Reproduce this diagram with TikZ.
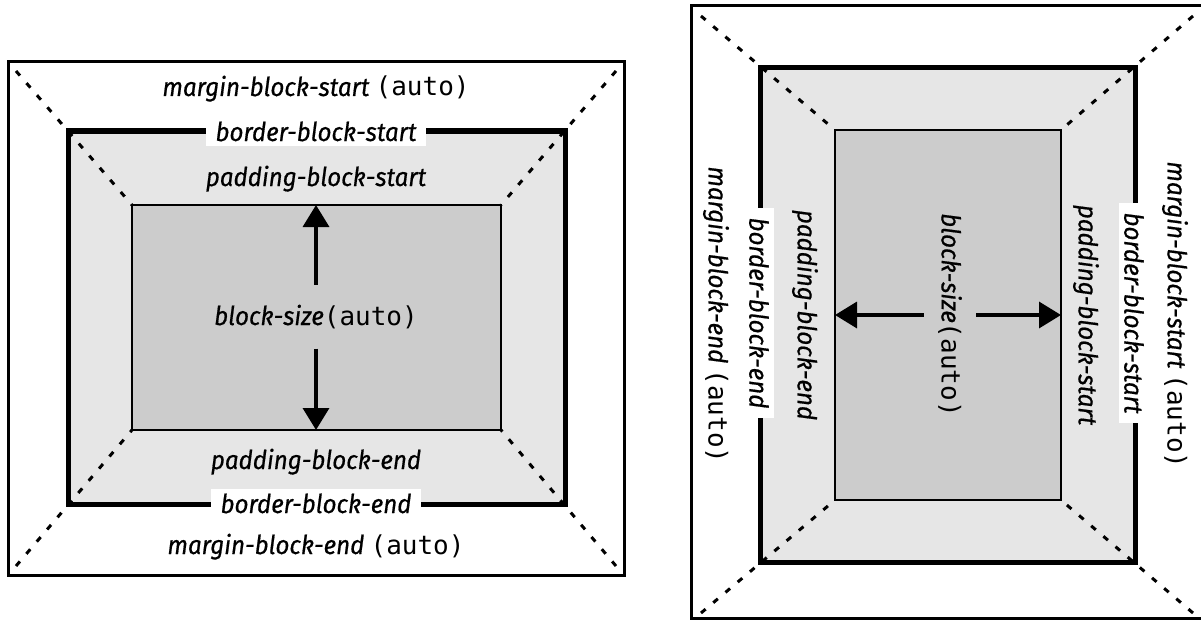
\documentclass[tikz,border=0pt]{standalone}
\usepackage{fontspec}
\newfontfamily\labelfont{Fira Sans}[FakeBold=0.6, FakeStretch=0.93]
\newfontfamily\codefont{DejaVu Sans Mono}
\usetikzlibrary{arrows.meta, positioning}
\definecolor{padgray}{HTML}{E6E6E6}
\definecolor{boxgray}{HTML}{CCCCCC}
\newcommand{\autoval}{{\codefont\upshape(auto)}}
\tikzset{
  lbl/.style={font=\labelfont\itshape\fontsize{26}{30}\selectfont, inner sep=0pt},
  gaplbl/.style={lbl, fill=white, inner xsep=10pt, inner ysep=5pt},
  outerline/.style={line width=3pt, fill=white},
  borderline/.style={line width=5pt, fill=padgray},
  contentline/.style={line width=2.2pt, fill=boxgray},
  guide/.style={line width=3pt, dash pattern=on 6pt off 10pt},
  sizearrow/.style={-{Triangle[width=26pt,length=22pt]}, line width=3.5pt},
}
\begin{document}
\begin{tikzpicture}[x=1pt, y=-1pt]
    \useasboundingbox (0,0) rectangle (1201,623);
    % Horizontal writing mode (left)
    \draw[outerline] (8,62) rectangle (624,575);
    \draw[borderline] (68,131) rectangle (565,504);
    \draw[contentline] (132,205) rectangle (501,430);
    % Corner guides
    \coordinate (h-a1) at (16,71);   \coordinate (h-a2) at (132,205);
    \coordinate (h-b1) at (616,71);  \coordinate (h-b2) at (501,205);
    \coordinate (h-c1) at (16,566);  \coordinate (h-c2) at (132,430);
    \coordinate (h-d1) at (616,566); \coordinate (h-d2) at (501,430);
    \draw[guide] (h-a1) -- (h-a2);
    \draw[guide] (h-b1) -- (h-b2);
    \draw[guide] (h-c1) -- (h-c2);
    \draw[guide] (h-d1) -- (h-d2);
    % Labels
    \node[lbl, anchor=base] (h-mstart) at (316,96) {margin-block-start \autoval};
    \node[gaplbl, anchor=base] (h-bstart) at (316,141) {border-block-start};
    \node[lbl, anchor=base] (h-pstart) at (316,186) {padding-block-start};
    \node[lbl, anchor=base] (h-size) at (316,325) {block-size\autoval};
    \node[lbl, anchor=base] (h-pend) at (316,469) {padding-block-end};
    \node[gaplbl, anchor=base] (h-bend) at (316,513) {border-block-end};
    \node[lbl, anchor=base] (h-mend) at (316,554) {margin-block-end \autoval};
    % Block size arrows
    \coordinate (h-top) at (316,205);
    \coordinate (h-bot) at (316,430);
    \draw[sizearrow, shorten <=20pt] (h-size) -- (h-top);
    \draw[sizearrow, shorten <=20pt] (h-size) -- (h-bot);

    % Vertical writing mode (right)
    \draw[outerline] (691,6) rectangle (1205,618);
    \draw[borderline] (760,68) rectangle (1135,562);
    \draw[contentline] (835,130) rectangle (1061,500);
    % Corner guides
    \coordinate (v-a1) at (701,16);   \coordinate (v-a2) at (835,130);
    \coordinate (v-b1) at (1193,16);  \coordinate (v-b2) at (1061,130);
    \coordinate (v-c1) at (701,613);  \coordinate (v-c2) at (835,500);
    \coordinate (v-d1) at (1193,613); \coordinate (v-d2) at (1061,500);
    \draw[guide] (v-a1) -- (v-a2);
    \draw[guide] (v-b1) -- (v-b2);
    \draw[guide] (v-c1) -- (v-c2);
    \draw[guide] (v-d1) -- (v-d2);
    % Labels
    \node[lbl, rotate=-90] (v-mend) at (716,315) {margin-block-end \autoval};
    \node[gaplbl, rotate=-90] (v-bend) at (759,313) {border-block-end};
    \node[lbl, rotate=-90] (v-pend) at (805,315) {padding-block-end};
    \node[lbl, rotate=-90] (v-size) at (950,315) {block-size\autoval};
    \node[lbl, rotate=-90] (v-pstart) at (1086,315) {padding-block-start};
    \node[gaplbl, rotate=-90] (v-bstart) at (1134,313) {border-block-start};
    \node[lbl, rotate=-90] (v-mstart) at (1175,315) {margin-block-start \autoval};
    % Block size arrows
    \coordinate (v-left) at (835,315);
    \coordinate (v-right) at (1061,315);
    \draw[sizearrow, shorten <=14pt] (v-size) -- (v-left);
    \draw[sizearrow, shorten <=14pt] (v-size) -- (v-right);
\end{tikzpicture}
\end{document}
